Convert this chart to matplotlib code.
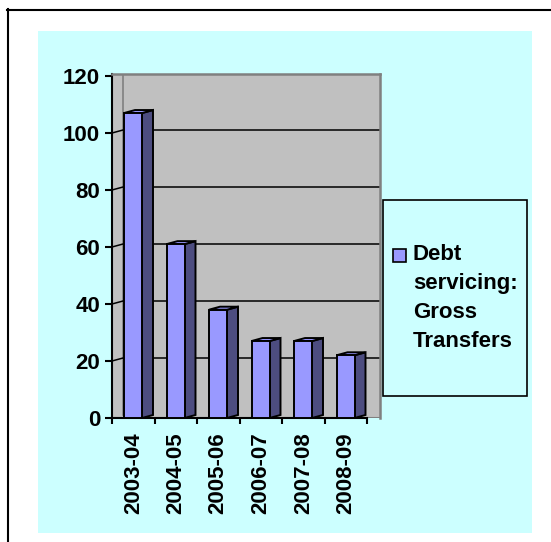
import matplotlib.pyplot as plt
from matplotlib.patches import Rectangle, Polygon
from matplotlib.lines import Line2D

plt.rcParams['font.family'] = ['Liberation Sans', 'DejaVu Sans']

years = ["2003-04", "2004-05", "2005-06", "2006-07", "2007-08", "2008-09"]
debt_servicing = [107, 61, 38, 27, 27, 22]
series_name = "Debt\nservicing:\nGross\nTransfers"
yticks = [0, 20, 40, 60, 80, 100, 120]

front = "#9999FF"
side = "#4D4D80"
wall = "#C0C0C0"
cyan = "#CCFFFF"
edge_gray = "#808080"

W, H = 551, 542
fig = plt.figure(figsize=(W / 100, H / 100), dpi=100)
fig.patch.set_facecolor("white")

# pixel helpers (origin top-left)
def fx(px):
    return px / W

def fy(py):
    return 1 - py / H

# chart area background + outer frame lines
fig.add_artist(Rectangle((fx(38), fy(533)), fx(532) - fx(38), fy(31) - fy(533),
                         transform=fig.transFigure, facecolor=cyan, edgecolor="none", zorder=0))
fig.add_artist(Line2D([fx(7.5), fx(7.5)], [fy(9), 0], transform=fig.transFigure, color="black", lw=1.5))
fig.add_artist(Line2D([fx(7), 1], [fy(10), fy(10)], transform=fig.transFigure, color="black", lw=1.5))

cat_px = 42.5
val_px = 2.85
ax = fig.add_axes([fx(112), fy(418), (380 - 112) / W, (418 - 74) / H])
xmax = (380 - 112) / cat_px
ax.set_xlim(0, xmax)
ax.set_ylim(0, (418 - 74) / val_px)
ax.set_facecolor(wall)

dx = 11 / cat_px
dy = 3 / val_px

# back wall edges and gridlines
ax.plot([dx, dx], [dy, ax.get_ylim()[1]], color=edge_gray, lw=1.2, zorder=1)
for v in yticks[1:-1]:
    ax.plot([0, dx, xmax], [v, v + dy, v + dy], color="black", lw=1.1, zorder=1)
ax.plot([6, xmax], [0, 0], color=edge_gray, lw=1.5, zorder=1)

# 3-D style bars
x_off, bw = 12 / cat_px, 18 / cat_px
for i, v in enumerate(debt_servicing):
    x0 = i + x_off
    x1 = x0 + bw
    ax.add_patch(Polygon([(x1, 0), (x1 + dx, dy), (x1 + dx, v + dy), (x1, v)],
                         closed=True, facecolor=side, edgecolor="black", lw=1.4, zorder=3))
    ax.add_patch(Polygon([(x0, v), (x0 + dx, v + dy), (x1 + dx, v + dy), (x1, v)],
                         closed=True, facecolor=front, edgecolor="black", lw=1.4, zorder=3))
    ax.add_patch(Rectangle((x0, 0), bw, v, facecolor=front, edgecolor="black", lw=1.4, zorder=4))

for s in ["top", "right"]:
    ax.spines[s].set_color(edge_gray)
    ax.spines[s].set_linewidth(1.8)
ax.spines["left"].set_linewidth(1.5)
ax.spines["bottom"].set_linewidth(1.5)
ax.spines["bottom"].set_bounds(0, 6)

ax.set_yticks(yticks)
ax.set_yticklabels([str(t) for t in yticks], fontsize=16, fontweight="bold")
ax.tick_params(axis="y", length=5, width=1.5, pad=3.5)

ax.set_xticks(range(7))
ax.set_xticklabels([])
ax.tick_params(axis="x", which="major", length=4.5, width=1.5)
ax.set_xticks([i + 0.5 for i in range(len(years))], minor=True)
ax.set_xticklabels(years, minor=True, rotation=90, fontsize=16, fontweight="bold")
ax.tick_params(axis="x", which="minor", length=0, pad=10)

# legend box
fig.add_artist(Rectangle((fx(383), fy(396)), fx(527) - fx(383), fy(200) - fy(396),
                         transform=fig.transFigure, facecolor=cyan, edgecolor="black", lw=1.2))
fig.add_artist(Rectangle((fx(393), fy(262)), fx(406) - fx(393), fy(249) - fy(262),
                         transform=fig.transFigure, facecolor=front, edgecolor="black", lw=1.2))
fig.text(fx(413), fy(244), series_name, va="top", ha="left", fontsize=16,
         fontweight="bold", linespacing=1.5)

fig.savefig("out.png", dpi=100)
